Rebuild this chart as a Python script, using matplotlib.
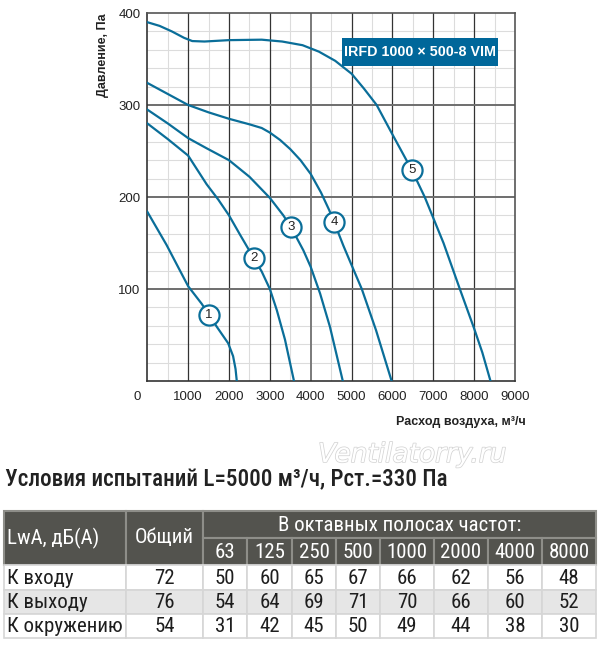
#!/usr/bin/env python3
"""
Аэродинамическая характеристика IRFD 1000x500-8 VIM и таблица уровней шума.
"""
import matplotlib
matplotlib.use('Agg')
import matplotlib.pyplot as plt
import matplotlib.patheffects as pe
from matplotlib import font_manager
from matplotlib.patches import Rectangle
from matplotlib.transforms import ScaledTranslation

# --- Kennlinien (Расход м³/ч, Давление Па) ---
curve1_x = [0, 470, 1000, 1330, 1510, 1700, 1980, 2100, 2160, 2190]
curve1_y = [184, 148, 103, 84, 72, 59, 41, 27, 13, 0]

curve2_x = [0, 500, 1000, 1450, 1740, 2000, 2270, 2600, 2800, 3000, 3170, 3370, 3590]
curve2_y = [280, 263, 245, 214, 197, 180, 159, 134, 119, 100, 77, 45, 0]

curve3_x = [0, 500, 1000, 1450, 2000, 2500, 3000, 3330, 3520, 3820, 4000, 4230, 4470, 4785]
curve3_y = [295, 280, 264, 253, 240, 222, 199, 180, 167, 142, 124, 95, 59, 0]

curve4_x = [0, 500, 1000, 1500, 2000, 2500, 2800, 3000, 3250, 3500, 3750, 4000, 4250,
            4450, 4570, 4800, 5000, 5250, 5600, 5980]
curve4_y = [324, 312, 300, 292, 285, 279, 275, 270, 262, 252, 240, 225, 205,
            186, 173, 147, 126, 100, 55, 0]

curve5_x = [0, 300, 600, 900, 1100, 1400, 2000, 2800, 3300, 3800, 4200, 4600, 5000,
            5300, 5614, 6000, 6478, 6790, 7250, 7650, 8000, 8200, 8400]
curve5_y = [390, 386, 380, 373, 369.5, 369, 370.5, 371, 369, 365, 358, 348, 334,
            318, 300, 268, 229, 200, 150, 100, 57, 31, 0]

curves = [(curve1_x, curve1_y), (curve2_x, curve2_y), (curve3_x, curve3_y),
          (curve4_x, curve4_y), (curve5_x, curve5_y)]

# Positionen der Kurvennummern
marker_x = [1510, 2600, 3520, 4570, 6478]
marker_y = [72, 134, 167, 173, 229]
marker_labels = ['1', '2', '3', '4', '5']

x_ticks = [0, 1000, 2000, 3000, 4000, 5000, 6000, 7000, 8000, 9000]
y_ticks = [100, 200, 300, 400]

MODEL = 'IRFD 1000 × 500-8 VIM'

# --- Tabelle ---
TITLE = 'Условия испытаний L=5000 м³/ч, Рст.=330 Па'
bands = ['63', '125', '250', '500', '1000', '2000', '4000', '8000']
row_names = ['К входу', 'К выходу', 'К окружению']
total = [72, 76, 54]
inlet = [50, 60, 65, 67, 66, 62, 56, 48]
outlet = [54, 64, 69, 71, 70, 66, 60, 52]
ambient = [31, 42, 45, 50, 49, 44, 38, 30]
band_values = [inlet, outlet, ambient]

BLUE = '#0a6e99'
BOX_BLUE = '#00679a'
HEAD_BG = '#53534e'
HEAD_LINE = '#8e8e89'

# Schmale Schrift für die Tabelle suchen
available = {f.name for f in font_manager.fontManager.ttflist}
narrow = 'Roboto'
for cand in ['Roboto Condensed', 'Liberation Sans Narrow', 'Open Sans Condensed',
             'Noto Sans Condensed', 'DejaVu Sans Condensed']:
    if cand in available:
        narrow = cand
        break

plt.rcParams['font.family'] = ['Liberation Sans', 'DejaVu Sans']

fig = plt.figure(figsize=(6, 6.52), dpi=100)
W, H = 600, 652
ax = fig.add_axes([147.3 / W, 1 - 381 / H, (515 - 147.3) / W, (381 - 13) / H])

# Gitter
for xv in range(500, 9000, 1000):
    ax.axvline(xv, color='#dcdcdc', lw=0.8, zorder=0)
for yv in range(20, 400, 20):
    if yv % 100:
        ax.axhline(yv, color='#dcdcdc', lw=0.8, zorder=0)
for xv in x_ticks[1:-1]:
    if xv == 4000:
        ax.axvline(xv, color='#7a7a7a', lw=1.4, zorder=1)
    else:
        ax.axvline(xv, color='#333333', lw=0.9, zorder=1)
for yv in y_ticks[:-1]:
    ax.axhline(yv, color='#6e6e6e', lw=1.4, zorder=1)

for cx, cy in curves:
    ax.plot(cx, cy, color=BLUE, lw=1.6, zorder=3, solid_joinstyle='round')

for mx, my, lab in zip(marker_x, marker_y, marker_labels):
    ax.plot(mx, my, 'o', ms=14.5, mfc='white', mec=BLUE, mew=1.6, zorder=4)
    ax.text(mx, my, lab, ha='center', va='center', fontsize=9.5, color='#222222', zorder=5)

# Modellbezeichnung
ax.add_patch(Rectangle((4765, 342.4), 8583 - 4765, 372.8 - 342.4,
                       facecolor=BOX_BLUE, edgecolor='none', zorder=5))
ax.text((4765 + 8583) / 2, 357.6, MODEL, ha='center', va='center', color='white',
        fontsize=10.3, fontweight='bold', zorder=6)

ax.set_xlim(0, 9000)
ax.set_ylim(0, 400)
ax.set_xticks(x_ticks)
ax.set_yticks(y_ticks)
ax.set_xticklabels([str(v) for v in x_ticks])
ax.set_yticklabels([str(v) for v in y_ticks])
ax.tick_params(length=0, labelsize=9.5, colors='#222222')
ax.tick_params(axis='x', pad=7)
ax.tick_params(axis='y', pad=5)
zero_lab = ax.get_xticklabels()[0]
zero_lab.set_transform(zero_lab.get_transform() + ScaledTranslation(-10 / 100, 0, fig.dpi_scale_trans))
for sp in ax.spines.values():
    sp.set_color('#333333')
    sp.set_linewidth(1.2)
ax.spines['top'].set_color('#555555')
ax.spines['right'].set_color('#555555')

fig.text(103 / W, 1 - 13 / H, 'Давление, Па', rotation=90, ha='center', va='top',
         fontsize=9, fontweight='bold', color='#222222')
fig.text(526 / W, 1 - 422 / H, 'Расход воздуха, м³/ч', ha='right', va='center',
         fontsize=9, fontweight='bold', color='#222222')

# --- Tabelle als Overlay in Pixelkoordinaten ---
tx = fig.add_axes([0, 0, 1, 1], facecolor='none')
tx.set_xlim(0, W)
tx.set_ylim(H, 0)
tx.axis('off')

tx.text(5, 486, TITLE, ha='left', va='baseline', fontsize=16.7, fontweight='medium',
        color='#222222', family=narrow)
tx.text(318, 455, 'Ventilatorry.ru', ha='left', va='center', fontsize=19, style='italic',
        color='white', family='DejaVu Sans',
        path_effects=[pe.withStroke(linewidth=1.1, foreground='#d4d4d4')])

col_edges = [4, 126, 203, 247, 292, 336, 380, 434, 488, 542, 596]
row_edges = [511, 538, 565, 590, 614, 638]
FS = 15

# Kopf
def head_cell(x0, x1, y0, y1):
    tx.add_patch(Rectangle((x0, y0), x1 - x0, y1 - y0, facecolor=HEAD_BG,
                           edgecolor=HEAD_LINE, lw=1.5))

head_cell(col_edges[0], col_edges[1], row_edges[0], row_edges[2])
head_cell(col_edges[1], col_edges[2], row_edges[0], row_edges[2])
head_cell(col_edges[2], col_edges[-1], row_edges[0], row_edges[1])
for i in range(len(bands)):
    head_cell(col_edges[2 + i], col_edges[3 + i], row_edges[1], row_edges[2])

tx.text(7, (row_edges[0] + row_edges[2]) / 2, 'LwA, дБ(А)', ha='left', va='center',
        fontsize=FS, color='white', family=narrow)
tx.text((col_edges[1] + col_edges[2]) / 2, (row_edges[0] + row_edges[2]) / 2, 'Общий',
        ha='center', va='center', fontsize=FS, color='white', family=narrow)
tx.text((col_edges[2] + col_edges[-1]) / 2, (row_edges[0] + row_edges[1]) / 2 + 1,
        'В октавных полосах частот:', ha='center', va='center', fontsize=FS,
        color='white', family=narrow)
for i, b in enumerate(bands):
    tx.text((col_edges[2 + i] + col_edges[3 + i]) / 2, (row_edges[1] + row_edges[2]) / 2 + 1,
            b, ha='center', va='center', fontsize=FS, color='white', family=narrow)

# Körper
row_bg = ['white', '#e6e6e6', 'white']
for r in range(3):
    y0, y1 = row_edges[2 + r], row_edges[3 + r]
    cells = [row_names[r], str(total[r])] + [str(v) for v in band_values[r]]
    for c in range(len(cells)):
        x0, x1 = col_edges[c], col_edges[c + 1]
        tx.add_patch(Rectangle((x0, y0), x1 - x0, y1 - y0, facecolor=row_bg[r],
                               edgecolor='#d6d6d6', lw=1.2))
        if c == 0:
            tx.text(x0 + 3, (y0 + y1) / 2 + 1, cells[c], ha='left', va='center',
                    fontsize=FS, color='#1e1e1e', family=narrow)
        else:
            tx.text((x0 + x1) / 2, (y0 + y1) / 2 + 1, cells[c], ha='center', va='center',
                    fontsize=FS, color='#1e1e1e', family=narrow)

fig.savefig('out.png', dpi=100)
